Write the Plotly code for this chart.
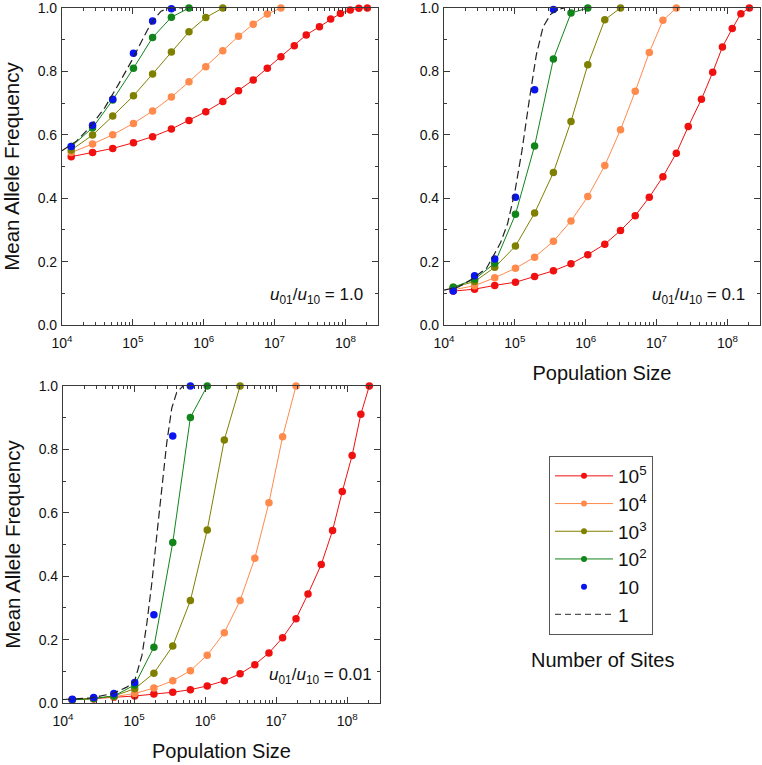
import plotly.graph_objects as go

# Population sizes (x values shared by all series)
N = [1.35e4, 2.7e4, 5.2e4, 1.02e5, 1.9e5, 3.5e5, 6.2e5, 1.07e6, 1.86e6, 3.1e6,
     5.0e6, 7.9e6, 1.23e7, 1.9e7, 2.8e7, 4.3e7, 6.2e7, 8.5e7, 1.17e8, 1.55e8, 2.04e8]

# Panel A: u01/u10 = 1.0
a_1e5 = [0.531, 0.544, 0.557, 0.575, 0.594, 0.618, 0.645, 0.673, 0.705, 0.739, 0.773,
         0.810, 0.846, 0.881, 0.915, 0.941, 0.965, 0.983, 0.994, 0.999, 1.0]
a_1e4 = [0.544, 0.571, 0.600, 0.636, 0.675, 0.719, 0.767, 0.815, 0.865, 0.911, 0.949, 0.981, 1.0]
a_1e3 = [0.552, 0.599, 0.659, 0.723, 0.792, 0.861, 0.925, 0.970, 1.0]
a_1e2 = [0.563, 0.622, 0.710, 0.810, 0.907, 0.971, 1.0]
a_10 = [0.563, 0.630, 0.712, 0.857, 0.959, 0.998]
a_1_N = [1.0e4, 1.6e4, 2.5e4, 4.0e4, 6.3e4, 1.0e5, 1.26e5, 1.6e5, 2.0e5, 2.5e5, 3.2e5, 5.0e5]
a_1 = [0.55, 0.58, 0.625, 0.685, 0.76, 0.84, 0.885, 0.93, 0.965, 0.99, 1.0, 1.0]

# Panel B: u01/u10 = 0.1
b_1e5 = [0.107, 0.113, 0.125, 0.135, 0.153, 0.171, 0.193, 0.222, 0.255, 0.298, 0.345,
         0.403, 0.468, 0.542, 0.626, 0.712, 0.797, 0.877, 0.935, 0.982, 1.0]
b_1e4 = [0.111, 0.124, 0.149, 0.179, 0.214, 0.264, 0.328, 0.405, 0.503, 0.616, 0.737, 0.860, 0.961, 1.0]
b_1e3 = [0.119, 0.137, 0.182, 0.249, 0.353, 0.481, 0.642, 0.821, 0.963, 1.0]
b_1e2 = [0.119, 0.144, 0.195, 0.349, 0.565, 0.839, 0.984, 1.0]
b_10 = [0.107, 0.155, 0.208, 0.403, 0.742, 0.995]
b_1_N = [1.0e4, 1.6e4, 2.5e4, 4.0e4, 6.3e4, 7.9e4, 1.0e5, 1.26e5, 1.6e5, 2.0e5, 2.5e5, 3.2e5, 4.0e5, 5.0e5]
b_1 = [0.11, 0.12, 0.145, 0.18, 0.26, 0.32, 0.42, 0.55, 0.71, 0.85, 0.94, 0.98, 0.995, 1.0]

# Panel C: u01/u10 = 0.01
c_1e5 = [0.010, 0.013, 0.018, 0.022, 0.028, 0.034, 0.042, 0.054, 0.070, 0.092, 0.121,
         0.158, 0.206, 0.266, 0.344, 0.437, 0.544, 0.667, 0.781, 0.911, 1.0]
c_1e4 = [0.010, 0.014, 0.020, 0.030, 0.047, 0.070, 0.102, 0.151, 0.222, 0.323, 0.457, 0.632, 0.840, 1.0]
c_1e3 = [0.010, 0.014, 0.022, 0.045, 0.094, 0.180, 0.323, 0.546, 0.830, 1.0]
c_1e2 = [0.010, 0.014, 0.022, 0.057, 0.176, 0.506, 0.901, 1.0]
c_10 = [0.012, 0.017, 0.030, 0.065, 0.278, 0.842, 1.0]
c_1_N = [1.0e4, 2.5e4, 5.0e4, 7.9e4, 1.02e5, 1.29e5, 1.51e5, 1.78e5, 2.09e5, 2.45e5, 2.88e5, 3.39e5, 3.98e5, 4.9e5]
c_1 = [0.011, 0.016, 0.03, 0.05, 0.07, 0.15, 0.25, 0.38, 0.53, 0.68, 0.82, 0.93, 0.98, 1.0]

series_names = ["10<sup>5</sup>", "10<sup>4</sup>", "10<sup>3</sup>", "10<sup>2</sup>", "10", "1"]
colors = ["#f01010", "#ff8a4c", "#808000", "#12851a", "#0a14f0", "#222222"]

x_tickvals = [1e4, 1e5, 1e6, 1e7, 1e8]
x_ticktext = ["10<sup>4</sup>", "10<sup>5</sup>", "10<sup>6</sup>", "10<sup>7</sup>", "10<sup>8</sup>"]
minor_x = [m * d for d in [1e4, 1e5, 1e6, 1e7, 1e8] for m in range(2, 10)]
ratio_labels = ["1.0", "0.1", "0.01"]

panels = [
    ("x", "y", [a_1e5, a_1e4, a_1e3, a_1e2, a_10], a_1_N, a_1),
    ("x2", "y2", [b_1e5, b_1e4, b_1e3, b_1e2, b_10], b_1_N, b_1),
    ("x3", "y3", [c_1e5, c_1e4, c_1e3, c_1e2, c_10], c_1_N, c_1),
]

DASH = "8px,4px"
fig = go.Figure()
for p, (xa, ya, ser, dN, dY) in enumerate(panels):
    for i, yv in enumerate(ser):
        fig.add_trace(go.Scatter(
            x=N[:len(yv)], y=yv, xaxis=xa, yaxis=ya,
            mode="markers" if i == 4 else "lines+markers",
            line=dict(color=colors[i], width=1),
            marker=dict(color=colors[i], size=7.5),
            showlegend=False, cliponaxis=False))
    fig.add_trace(go.Scatter(
        x=dN, y=dY, xaxis=xa, yaxis=ya, mode="lines",
        line=dict(color=colors[5], width=1.2, dash=DASH),
        showlegend=False, cliponaxis=False))

# legend-only entries
for i, nm in enumerate(series_names):
    if i == 5:
        fig.add_trace(go.Scatter(x=[None], y=[None], mode="lines", name=nm,
                                 line=dict(color="#555555", width=1.2, dash="6px,4px")))
    else:
        fig.add_trace(go.Scatter(x=[None], y=[None],
                                 mode="markers" if i == 4 else "lines+markers", name=nm,
                                 line=dict(color=colors[i], width=1),
                                 marker=dict(color=colors[i], size=6)))

W, H = 762, 765
def dx(a, b):
    return [a / W, b / W]
def dy(top, bottom):
    return [1 - bottom / H, 1 - top / H]

font = "Liberation Sans, Arial, sans-serif"
axis_line = "#3a3a3a"

def xaxis_cfg(domain, anchor, title=None):
    d = dict(type="log", domain=domain, anchor=anchor, range=[4, 8.46], automargin=False,
             tickvals=x_tickvals, ticktext=x_ticktext, ticks="inside", ticklen=6,
             tickcolor=axis_line, showline=True, linecolor=axis_line, linewidth=1.2,
             mirror="ticks", showgrid=False, zeroline=False, ticklabelstandoff=5,
             ticklabeloverflow="allow",
             tickfont=dict(size=14, color="#111"),
             minor=dict(tickvals=minor_x, ticks="inside", ticklen=3, tickcolor=axis_line,
                        showgrid=False))
    if title:
        d["title"] = dict(text=title, font=dict(size=20, color="#111"), standoff=16)
    return d

def yaxis_cfg(domain, anchor, title=None):
    d = dict(domain=domain, anchor=anchor, range=[0, 1], dtick=0.2, tickformat=".1f",
             automargin=False, ticklabeloverflow="allow",
             ticks="inside", ticklen=6, tickcolor=axis_line, showline=True,
             linecolor=axis_line, linewidth=1.2, mirror="ticks", showgrid=False,
             zeroline=False, tickfont=dict(size=14, color="#111"), ticklabelstandoff=1,
             minor=dict(ticks="inside", ticklen=3, dtick=0.1, tickcolor=axis_line, showgrid=False))
    if title:
        d["title"] = dict(text=title, font=dict(size=20.5, color="#111"), standoff=12)
    return d

fig.update_layout(
    width=W, height=H, margin=dict(l=0, r=0, t=0, b=0, autoexpand=False),
    paper_bgcolor="white", plot_bgcolor="white",
    font=dict(family=font, color="#111"),
    xaxis=xaxis_cfg(dx(62, 378), "y"),
    yaxis=yaxis_cfg(dy(8, 325), "x", "Mean Allele Frequency"),
    xaxis2=xaxis_cfg(dx(444, 760), "y2", "Population Size"),
    yaxis2=yaxis_cfg(dy(8, 325), "x2"),
    xaxis3=xaxis_cfg(dx(63, 380), "y3", "Population Size"),
    yaxis3=yaxis_cfg(dy(386, 703), "x3", "Mean Allele Frequency"),
    legend=dict(x=549 / W, y=1 - 456 / H, xanchor="left", yanchor="top",
                bordercolor="#555", borderwidth=1, bgcolor="white", itemwidth=58,
                font=dict(size=19, color="#111"), tracegroupgap=0),
    showlegend=True,
)

ann_pos = [("x domain", "y domain", 0.96, 0.09), ("x2 domain", "y2 domain", 0.96, 0.09),
           ("x3 domain", "y3 domain", 0.98, 0.085)]
for (xr, yr, ax_, ay_), lab in zip(ann_pos, ratio_labels):
    fig.add_annotation(xref=xr, yref=yr, x=ax_, y=ay_, xanchor="right", yanchor="middle",
                       text="<i>u</i><sub>01</sub>/<i>u</i><sub>10</sub> = " + lab,
                       showarrow=False, font=dict(size=17, color="#111"))

fig.add_annotation(xref="paper", yref="paper", x=602 / W, y=1 - 660 / H,
                   xanchor="center", yanchor="middle",
                   text="Number of Sites", showarrow=False,
                   font=dict(size=20, color="#111"))

fig.write_html("out.html", config={"displayModeBar": False},
               post_script="document.body.style.margin='0';document.body.style.overflow='hidden';")
